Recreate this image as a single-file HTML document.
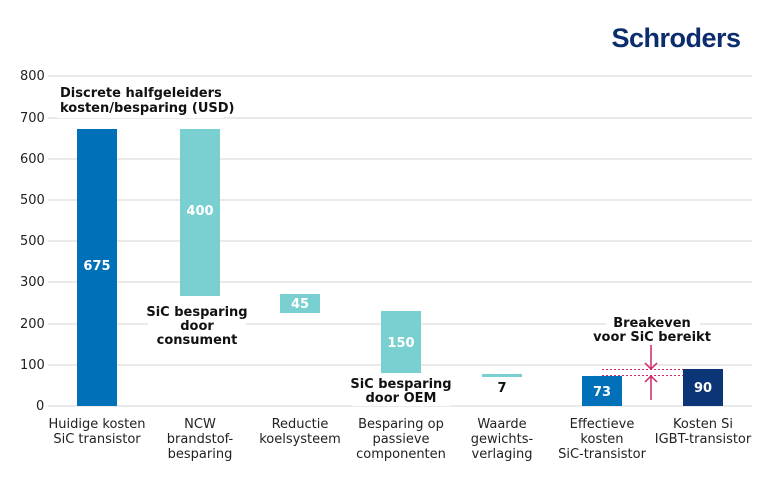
<!DOCTYPE html>
<html><head><meta charset="utf-8"><style>
body{margin:0;background:#fff;}
svg{display:block;font-family:"DejaVu Sans","Liberation Sans",sans-serif;}
.t{font-size:13px;fill:#222;}
.c{font-size:13px;fill:#222;text-anchor:middle;}
.b{font-size:13px;font-weight:bold;fill:#111;text-anchor:middle;}
.w{font-size:13px;font-weight:bold;fill:#fff;text-anchor:middle;}
</style></head><body>
<svg width="770" height="488" viewBox="0 0 770 488">
<text x="676" y="47" font-size="27" font-weight="bold" fill="#0b2d6e" text-anchor="middle" font-family="Liberation Sans,sans-serif" letter-spacing="-0.5">Schroders</text>
<g stroke="#e3e3e3" stroke-width="1.5">
<line x1="48" x2="752" y1="76" y2="76"/><line x1="48" x2="752" y1="118" y2="118"/>
<line x1="48" x2="752" y1="159" y2="159"/><line x1="48" x2="752" y1="200" y2="200"/>
<line x1="48" x2="752" y1="241" y2="241"/><line x1="48" x2="752" y1="282" y2="282"/>
<line x1="48" x2="752" y1="324" y2="324"/><line x1="48" x2="752" y1="365" y2="365"/>
<line x1="48" x2="752" y1="406" y2="406"/>
</g>
<g class="t">
<text x="20" y="80">800</text><text x="20" y="122">700</text><text x="20" y="163">600</text>
<text x="20" y="204">500</text><text x="20" y="245">500</text><text x="20" y="286">300</text>
<text x="20" y="328">200</text><text x="20" y="369">100</text><text x="36" y="410">0</text>
</g>
<rect x="58" y="84" width="165" height="34" fill="#fff"/>
<text x="60" y="97" font-size="13" font-weight="bold" fill="#111">Discrete halfgeleiders</text>
<text x="60" y="112" font-size="13" font-weight="bold" fill="#111">kosten/besparing (USD)</text>
<rect x="77" y="129" width="40" height="277" fill="#0070b8"/>
<rect x="180" y="129" width="40" height="167" fill="#7acfd0"/>
<rect x="280" y="294" width="40" height="19" fill="#7acfd0"/>
<rect x="381" y="311" width="40" height="62" fill="#7acfd0"/>
<rect x="482" y="374" width="40" height="3" fill="#7acfd0"/>
<rect x="582" y="376" width="40" height="30" fill="#0070b8"/>
<rect x="683" y="369" width="40" height="37" fill="#0b3576"/>
<text class="w" x="97" y="270">675</text>
<text class="w" x="200" y="215">400</text>
<text class="w" x="300" y="308">45</text>
<text class="w" x="401" y="347">150</text>
<text class="w" x="602" y="396">73</text>
<text class="w" x="703" y="392">90</text>
<text class="b" x="502" y="392">7</text>
<rect x="148" y="303" width="98" height="44" fill="#fff"/>
<text class="b" x="197" y="316">SiC besparing</text>
<text class="b" x="197" y="330">door</text>
<text class="b" x="197" y="344">consument</text>
<rect x="352" y="376" width="98" height="30" fill="#fff"/>
<text class="b" x="401" y="388">SiC besparing</text>
<text class="b" x="401" y="402">door OEM</text>
<rect x="606" y="315" width="94" height="30" fill="#fff"/>
<text class="b" x="652" y="327">Breakeven</text>
<text class="b" x="652" y="341">voor SiC bereikt</text>
<g stroke="#d0246b" stroke-width="1.5" fill="none">
<line x1="602" x2="683" y1="369.5" y2="369.5" stroke="#d0246b" stroke-dasharray="2,2" stroke-width="1"/>
<line x1="602" x2="683" y1="375.5" y2="375.5" stroke="#d0246b" stroke-dasharray="2,2" stroke-width="1"/>
<line x1="651" x2="651" y1="345" y2="369"/><polyline points="645,363 651,369 657,363"/>
<line x1="651" x2="651" y1="376" y2="400"/><polyline points="645,382 651,376 657,382"/>
</g>
<g class="c">
<text x="97" y="428">Huidige kosten</text><text x="97" y="443">SiC transistor</text>
<text x="200" y="428">NCW</text><text x="200" y="443">brandstof-</text><text x="200" y="458">besparing</text>
<text x="300" y="428">Reductie</text><text x="300" y="443">koelsysteem</text>
<text x="401" y="428">Besparing op</text><text x="401" y="443">passieve</text><text x="401" y="458">componenten</text>
<text x="502" y="428">Waarde</text><text x="502" y="443">gewichts-</text><text x="502" y="458">verlaging</text>
<text x="602" y="428">Effectieve</text><text x="602" y="443">kosten</text><text x="602" y="458">SiC-transistor</text>
<text x="703" y="428">Kosten Si</text><text x="703" y="443">IGBT-transistor</text>
</g>
</svg>
</body></html>
